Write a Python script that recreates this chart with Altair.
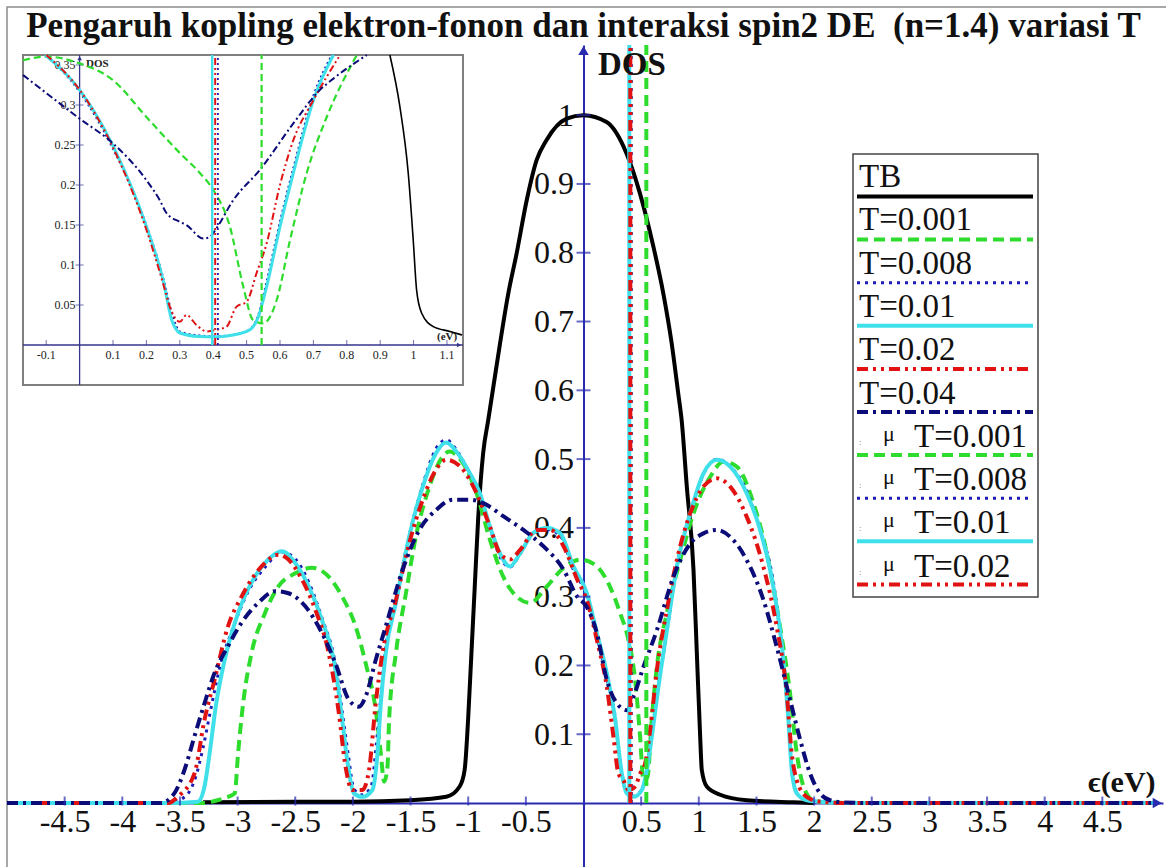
import altair as alt
import pandas as pd

# ---------------- text ----------------
TITLE = "Pengaruh kopling elektron-fonon dan interaksi spin2 DE\u00a0 (n=1.4) variasi T"
Y_LABEL = "DOS"
X_LABEL = "\u03f5(eV)"
INSET_Y_LABEL = "DOS"
INSET_X_LABEL = "(eV)"
LEGEND_LABELS = ["TB", "T=0.001", "T=0.008", "T=0.01", "T=0.02", "T=0.04",
                 "T=0.001", "T=0.008", "T=0.01", "T=0.02"]
LEGEND_MU = [False, False, False, False, False, False, True, True, True, True]

# ---------------- main data ----------------
TB_X = [-3.3, -2.5, -2.0, -1.5, -1.19, -1.074, -1.031, -1.001, -0.972, -0.943,
        -0.914, -0.87, -0.826, -0.782, -0.724, -0.652, -0.58, -0.493, -0.406, -0.32,
        -0.146, 0.0, 0.2, 0.374, 0.49, 0.606, 0.692, 0.765, 0.822, 0.851,
        0.896, 0.954, 0.983, 1.012, 1.026, 1.069, 1.185, 1.416, 1.82, 2.0]
TB_Y = [0.001, 0.002, 0.002, 0.004, 0.009, 0.024, 0.048, 0.121, 0.218, 0.315,
        0.412, 0.509, 0.557, 0.605, 0.668, 0.741, 0.799, 0.876, 0.935, 0.964,
        0.995, 1.0, 0.99, 0.944, 0.886, 0.809, 0.741, 0.668, 0.595, 0.557,
        0.46, 0.339, 0.218, 0.096, 0.048, 0.024, 0.012, 0.004, 0.001, 0.0]

T001_X = [-5.0, -3.3, -3.2, -3.1, -3.025, -2.996, -2.952, -2.879, -2.763, -2.646,
          -2.5, -2.355, -2.21, -2.093, -1.977, -1.889, -1.802, -1.758, -1.729, -1.7,
          -1.686, -1.627, -1.54, -1.453, -1.336, -1.22, -1.162, -1.045, -0.929, -0.812,
          -0.696, -0.579, -0.463, -0.317, -0.172, -0.026, 0.116, 0.231, 0.318, 0.39,
          0.448, 0.491, 0.52, 0.555, 0.592, 0.636, 0.723, 0.838, 0.954, 1.098,
          1.214, 1.329, 1.474, 1.59, 1.705, 1.792, 1.85, 1.908, 1.994, 2.11,
          2.4, 4.95]
T001_Y = [0, 0, 0.003, 0.008, 0.014, 0.072, 0.145, 0.218, 0.276, 0.315,
          0.334, 0.342, 0.329, 0.3, 0.257, 0.203, 0.135, 0.072, 0.031, 0.053,
          0.121, 0.218, 0.305, 0.388, 0.46, 0.504, 0.511, 0.494, 0.451, 0.383,
          0.329, 0.3, 0.291, 0.315, 0.342, 0.354, 0.344, 0.314, 0.276, 0.237,
          0.179, 0.096, 0.033, 0.038, 0.121, 0.198, 0.276, 0.353, 0.421, 0.474,
          0.496, 0.489, 0.436, 0.363, 0.256, 0.159, 0.072, 0.024, 0.004, 0.001,
          0, 0]

T008_X = [-5.0, -3.6, -3.45, -3.36, -3.3, -3.24, -3.15, -3.05, -2.9, -2.75,
          -2.62, -2.5, -2.38, -2.27, -2.15, -2.09, -2.04, -1.99, -1.92, -1.84,
          -1.8, -1.76, -1.72, -1.63, -1.51, -1.39, -1.28, -1.19, -1.1, -0.99,
          -0.9, -0.81, -0.73, -0.64, -0.55, -0.43, -0.32, -0.2, -0.09, 0.03,
          0.12, 0.2, 0.27, 0.32, 0.37, 0.43, 0.5, 0.54, 0.58, 0.64,
          0.72, 0.8, 0.92, 1.04, 1.16, 1.27, 1.42, 1.53, 1.65, 1.73,
          1.78, 1.81, 1.85, 1.94, 2.05, 2.3, 4.95]
T008_Y = [0, 0, 0.01, 0.04, 0.08, 0.13, 0.2, 0.25, 0.31, 0.345,
          0.365, 0.355, 0.32, 0.27, 0.2, 0.13, 0.07, 0.02, 0.012, 0.025,
          0.08, 0.15, 0.22, 0.295, 0.39, 0.465, 0.515, 0.528, 0.513, 0.48,
          0.45, 0.4, 0.36, 0.343, 0.362, 0.393, 0.398, 0.388, 0.34, 0.3,
          0.24, 0.183, 0.13, 0.06, 0.016, 0.01, 0.018, 0.04, 0.085, 0.16,
          0.245, 0.335, 0.418, 0.478, 0.5, 0.49, 0.452, 0.398, 0.318, 0.21,
          0.125, 0.05, 0.015, 0.004, 0.002, 0, 0]

T01_X = [-5.0, -3.6, -3.345, -3.287, -3.243, -3.185, -3.112, -2.996, -2.85, -2.734,
         -2.617, -2.5, -2.384, -2.268, -2.151, -2.093, -2.05, -1.991, -1.918, -1.831,
         -1.787, -1.758, -1.715, -1.627, -1.511, -1.394, -1.278, -1.191, -1.103, -0.987,
         -0.9, -0.812, -0.725, -0.638, -0.55, -0.434, -0.317, -0.202, -0.087, 0.029,
         0.116, 0.202, 0.275, 0.332, 0.376, 0.434, 0.506, 0.549, 0.592, 0.65,
         0.723, 0.809, 0.925, 1.04, 1.156, 1.272, 1.416, 1.532, 1.647, 1.734,
         1.777, 1.806, 1.85, 1.936, 2.052, 2.3, 4.95]
T01_Y = [0, 0, 0.002, 0.024, 0.072, 0.145, 0.208, 0.276, 0.329, 0.354,
         0.366, 0.349, 0.315, 0.266, 0.194, 0.121, 0.063, 0.014, 0.009, 0.019,
         0.072, 0.145, 0.218, 0.291, 0.388, 0.46, 0.509, 0.524, 0.511, 0.48,
         0.451, 0.402, 0.363, 0.344, 0.363, 0.393, 0.4, 0.392, 0.344, 0.305,
         0.247, 0.189, 0.121, 0.043, 0.014, 0.009, 0.019, 0.048, 0.096, 0.169,
         0.251, 0.343, 0.421, 0.479, 0.499, 0.489, 0.45, 0.397, 0.314, 0.208,
         0.121, 0.048, 0.014, 0.004, 0.002, 0, 0]

T002_X = [-5.0, -3.6, -3.52, -3.374, -3.287, -3.2, -3.083, -2.966, -2.792, -2.646,
          -2.559, -2.442, -2.326, -2.21, -2.122, -2.064, -2.006, -1.918, -1.86, -1.802,
          -1.744, -1.627, -1.511, -1.394, -1.278, -1.191, -1.074, -0.929, -0.812, -0.725,
          -0.638, -0.55, -0.405, -0.288, -0.172, -0.055, 0.029, 0.116, 0.202, 0.26,
          0.303, 0.347, 0.39, 0.448, 0.491, 0.535, 0.578, 0.636, 0.723, 0.809,
          0.925, 1.04, 1.156, 1.272, 1.416, 1.561, 1.676, 1.763, 1.806, 1.85,
          1.936, 2.052, 2.3, 4.95]
T002_Y = [0, 0, 0.009, 0.043, 0.121, 0.179, 0.257, 0.3, 0.344, 0.361,
          0.354, 0.325, 0.281, 0.218, 0.131, 0.053, 0.019, 0.019, 0.048, 0.145,
          0.218, 0.295, 0.378, 0.441, 0.485, 0.499, 0.49, 0.451, 0.402, 0.363,
          0.354, 0.368, 0.397, 0.397, 0.373, 0.325, 0.295, 0.237, 0.169, 0.096,
          0.043, 0.033, 0.019, 0.024, 0.043, 0.058, 0.106, 0.193, 0.281, 0.353,
          0.421, 0.46, 0.472, 0.46, 0.416, 0.343, 0.256, 0.159, 0.072, 0.033,
          0.009, 0.002, 0, 0]

T004_X = [-5.0, -3.665, -3.549, -3.461, -3.374, -3.287, -3.2, -3.083, -2.966, -2.821,
          -2.675, -2.559, -2.413, -2.268, -2.151, -2.035, -1.948, -1.889, -1.802, -1.715,
          -1.569, -1.424, -1.278, -1.133, -0.987, -0.87, -0.696, -0.521, -0.346, -0.172,
          -0.055, 0.029, 0.116, 0.202, 0.289, 0.376, 0.434, 0.52, 0.636, 0.78,
          0.925, 1.04, 1.156, 1.272, 1.416, 1.561, 1.676, 1.792, 1.879, 1.965,
          2.052, 2.139, 2.254, 2.5, 4.95]
T004_Y = [0, 0, 0.014, 0.048, 0.097, 0.145, 0.189, 0.228, 0.262, 0.291,
          0.308, 0.305, 0.286, 0.247, 0.203, 0.15, 0.14, 0.155, 0.208, 0.257,
          0.339, 0.397, 0.426, 0.441, 0.441, 0.436, 0.417, 0.397, 0.373, 0.339,
          0.3, 0.285, 0.247, 0.179, 0.145, 0.135, 0.155, 0.198, 0.251, 0.329,
          0.377, 0.392, 0.397, 0.387, 0.353, 0.295, 0.227, 0.15, 0.092, 0.043,
          0.014, 0.004, 0.001, 0, 0]

# chemical potential mu for T=0.001, 0.008, 0.01, 0.02
MU_X = [0.545, 0.414, 0.397, 0.406]

X_TICKS = [-4.5, -4, -3.5, -3, -2.5, -2, -1.5, -1, -0.5,
           0.5, 1, 1.5, 2, 2.5, 3, 3.5, 4, 4.5]
Y_TICKS = [0.1, 0.2, 0.3, 0.4, 0.5, 0.6, 0.7, 0.8, 0.9, 1]

# ---------------- inset data ----------------
I_TB_X = [0.929, 0.959, 0.984, 0.999, 1.009, 1.024, 1.059, 1.109, 1.145]
I_TB_Y = [0.3625, 0.298, 0.215, 0.131, 0.069, 0.04, 0.023, 0.017, 0.0125]
I_T001_X = [-0.1695, -0.1, 0.0, 0.1, 0.2, 0.3, 0.36, 0.4, 0.45, 0.49,
            0.52, 0.55, 0.59, 0.63, 0.68, 0.74, 0.83]
I_T001_Y = [0.356, 0.3605, 0.352, 0.331, 0.285, 0.24, 0.215, 0.194, 0.148, 0.073,
            0.031, 0.027, 0.056, 0.131, 0.215, 0.285, 0.3625]
I_T008_X = [-0.1, 0.0, 0.1, 0.2, 0.25, 0.28, 0.3, 0.36, 0.4, 0.46,
            0.51, 0.535, 0.56, 0.6, 0.64, 0.7, 0.755]
I_T008_Y = [0.3625, 0.316, 0.245, 0.15, 0.085, 0.035, 0.017, 0.012, 0.011, 0.013,
            0.02, 0.038, 0.08, 0.155, 0.222, 0.312, 0.3625]
I_T01_X = [-0.103, 0.0, 0.101, 0.2, 0.25, 0.276, 0.29, 0.3, 0.36, 0.4,
           0.46, 0.51, 0.535, 0.56, 0.6, 0.64, 0.7, 0.76]
I_T01_Y = [0.3625, 0.319, 0.248, 0.148, 0.081, 0.031, 0.019, 0.015, 0.0105, 0.01,
           0.0125, 0.019, 0.035, 0.073, 0.148, 0.215, 0.306, 0.3625]
I_T002_X = [-0.1, 0.0, 0.101, 0.2, 0.25, 0.27, 0.3, 0.32, 0.35, 0.38,
            0.41, 0.44, 0.47, 0.5, 0.53, 0.56, 0.6, 0.64, 0.7, 0.78]
I_T002_Y = [0.3625, 0.319, 0.246, 0.144, 0.077, 0.048, 0.029, 0.0375, 0.025, 0.017,
            0.019, 0.023, 0.048, 0.054, 0.09, 0.127, 0.2, 0.256, 0.306, 0.3625]
I_T004_X = [-0.1695, 0.0, 0.1, 0.2, 0.24, 0.26, 0.3, 0.32, 0.37, 0.39,
            0.41, 0.46, 0.54, 0.64, 0.72, 0.76, 0.86]
I_T004_Y = [0.3375, 0.283, 0.252, 0.206, 0.181, 0.165, 0.154, 0.15, 0.133, 0.135,
            0.146, 0.181, 0.219, 0.277, 0.319, 0.333, 0.3625]

I_X_TICKS = [-0.1, 0.1, 0.2, 0.3, 0.4, 0.5, 0.6, 0.7, 0.8, 0.9, 1, 1.1]
I_Y_TICKS = [0.05, 0.1, 0.15, 0.2, 0.25, 0.3, 0.35]

# ---------------- geometry / styles ----------------
W, H = 1156, 822
PAD = {"left": 7, "top": 45, "right": 3, "bottom": 0}
X_DOMAIN = [-5.0, 5.026]
Y_DOMAIN = [-0.093, 1.102]
I_X_DOMAIN = [-0.1695, 1.148]
I_Y_DOMAIN = [-0.05, 0.3625]
I_X_RANGE = [16, 456]
I_Y_RANGE = [340, 10]

FONT = "Liberation Serif"
AXIS_COLOR = "#2a2ab0"
I_AXIS_COLOR = "#35358c"

STYLE = {
    "TB":   {"color": "#000000", "w": 4, "dash": None, "iw": 1.6, "idash": None},
    "T001": {"color": "#2ddc2d", "w": 4, "dash": [11, 6], "iw": 2.2, "idash": [7, 4]},
    "T008": {"color": "#1c1cb4", "w": 3, "dash": [3, 5], "iw": 1.8, "idash": [2, 3]},
    "T01":  {"color": "#3fe0ea", "w": 4, "dash": None, "iw": 3, "idash": None},
    "T002": {"color": "#e01212", "w": 4, "dash": [11, 5, 3, 5, 3, 5], "iw": 2, "idash": [7, 3, 2, 3, 2, 3]},
    "T004": {"color": "#0c0c78", "w": 4, "dash": [11, 5, 3, 5], "iw": 2, "idash": [7, 3, 2, 3]},
}
LEGEND_KEYS = ["TB", "T001", "T008", "T01", "T002", "T004", "T001", "T008", "T01", "T002"]
MU_KEYS = ["T001", "T008", "T01", "T002"]

xs = alt.Scale(domain=X_DOMAIN, nice=False, zero=False)
ys = alt.Scale(domain=Y_DOMAIN, nice=False, zero=False)
ixs = alt.Scale(domain=I_X_DOMAIN, range=I_X_RANGE, nice=False, zero=False)
iys = alt.Scale(domain=I_Y_DOMAIN, range=I_Y_RANGE, nice=False, zero=False)

x_off = -H * (0 - Y_DOMAIN[0]) / (Y_DOMAIN[1] - Y_DOMAIN[0])
y_off = -W * (0 - X_DOMAIN[0]) / (X_DOMAIN[1] - X_DOMAIN[0])

x_axis = alt.Axis(values=X_TICKS, title=None, orient="bottom", offset=x_off,
                  ticks=False, tickSize=0, grid=False, domainColor=AXIS_COLOR,
                  domainWidth=2, labelFont=FONT, labelFontSize=32, labelColor="#111",
                  labelPadding=3, labelExpr="'' + datum.value", labelOverlap=False,
                  labelFlush=False)
y_axis = alt.Axis(values=Y_TICKS, title=None, orient="left", offset=y_off,
                  ticks=False, tickSize=0, grid=False, domainColor=AXIS_COLOR,
                  domainWidth=2, labelFont=FONT, labelFontSize=32, labelColor="#111",
                  labelPadding=10, labelExpr="'' + datum.value", labelOverlap=False,
                  labelFlush=False)

X = lambda f="x": alt.X(f + ":Q", scale=xs, axis=x_axis)
Y = lambda f="y": alt.Y(f + ":Q", scale=ys, axis=y_axis)
IX = lambda f="ix": alt.X(f + ":Q", scale=ixs, axis=None)
IY = lambda f="iy": alt.Y(f + ":Q", scale=iys, axis=None)


def mk(kw, dash):
    if dash:
        kw["strokeDash"] = dash
    return kw


def main_line(xv, yv, key):
    assert len(xv) == len(yv), key
    s = STYLE[key]
    df = pd.DataFrame({"x": xv, "y": yv})
    kw = mk({"color": s["color"], "strokeWidth": s["w"], "interpolate": "monotone"}, s["dash"])
    return alt.Chart(df).mark_line(**kw).encode(x=X(), y=Y())


def inset_line(xv, yv, key):
    assert len(xv) == len(yv), key
    s = STYLE[key]
    df = pd.DataFrame({"ix": xv, "iy": yv})
    kw = mk({"color": s["color"], "strokeWidth": s["iw"], "interpolate": "monotone"}, s["idash"])
    return alt.Chart(df).mark_line(**kw).encode(x=IX(), y=IY())


def vtext(text, x, y, size, weight="normal", align="left", color="#111", font=FONT):
    return alt.Chart(pd.DataFrame({"t": [text]})).mark_text(
        font=font, fontSize=size, fontWeight=weight, align=align,
        baseline="alphabetic", color=color
    ).encode(x=alt.value(x), y=alt.value(y), text="t:N")


one = pd.DataFrame({"a": [0]})

# ---------------- main layer ----------------
main_layers = []
main_layers.append(alt.Chart(one).mark_rect(fillOpacity=0, stroke="#8c8c8c", strokeWidth=1.5).encode(
    x=alt.value(0), x2=alt.value(1300), y=alt.value(-38), y2=alt.value(1000)))
main_layers.append(main_line(TB_X, TB_Y, "TB"))
main_layers.append(main_line(T001_X, T001_Y, "T001"))
main_layers.append(main_line(T008_X, T008_Y, "T008"))
main_layers.append(main_line(T01_X, T01_Y, "T01"))
main_layers.append(main_line(T002_X, T002_Y, "T002"))
main_layers.append(main_line(T004_X, T004_Y, "T004"))
for mu, key in zip(MU_X, MU_KEYS):
    s = STYLE[key]
    df = pd.DataFrame({"x": [mu], "y": [0.0], "y2": [Y_DOMAIN[1]]})
    kw = mk({"color": s["color"], "strokeWidth": s["w"]}, s["dash"])
    main_layers.append(alt.Chart(df).mark_rule(**kw).encode(x=X(), y=Y(), y2="y2:Q"))

# axis ticks crossing the axes
main_layers.append(alt.Chart(pd.DataFrame({"x": X_TICKS, "y": [0.0] * len(X_TICKS)})).mark_tick(
    orient="vertical", size=9, thickness=2, color=AXIS_COLOR, yOffset=-2).encode(x=X(), y=Y()))
main_layers.append(alt.Chart(pd.DataFrame({"x": [0.0] * len(Y_TICKS), "y": Y_TICKS})).mark_tick(
    orient="horizontal", size=14, thickness=2, color=AXIS_COLOR).encode(x=X(), y=Y()))
# arrow heads
main_layers.append(alt.Chart(pd.DataFrame({"x": [X_DOMAIN[1] - 0.05], "y": [0.0]})).mark_point(
    shape="triangle-right", filled=True, size=110, color=AXIS_COLOR, opacity=1).encode(x=X(), y=Y()))
main_layers.append(alt.Chart(pd.DataFrame({"x": [0.0], "y": [Y_DOMAIN[1] - 0.008]})).mark_point(
    shape="triangle-up", filled=True, size=110, color=AXIS_COLOR, opacity=1).encode(x=X(), y=Y()))

main_layers.append(vtext(TITLE, 576.5, -8, 35, "bold", "center"))
main_layers.append(vtext(Y_LABEL, 591, 30, 33, "bold"))
main_layers.append(vtext(X_LABEL, 1081, 747, 30, "bold"))

# ---------------- inset layer ----------------
inset_layers = []
inset_layers.append(alt.Chart(one).mark_rect(fill="white", stroke="#7f7f7f", strokeWidth=2).encode(
    x=alt.value(I_X_RANGE[0]), x2=alt.value(I_X_RANGE[1]),
    y=alt.value(I_Y_RANGE[1]), y2=alt.value(I_Y_RANGE[0])))
# inset axes
inset_layers.append(alt.Chart(pd.DataFrame({"ix": [I_X_DOMAIN[0]], "ix2": [I_X_DOMAIN[1]], "iy": [0.0]})).mark_rule(
    color=I_AXIS_COLOR, strokeWidth=1.3).encode(x=IX(), x2="ix2:Q", y=IY()))
inset_layers.append(alt.Chart(pd.DataFrame({"ix": [0.0], "iy": [I_Y_DOMAIN[0]], "iy2": [I_Y_DOMAIN[1]]})).mark_rule(
    color=I_AXIS_COLOR, strokeWidth=1.3).encode(x=IX(), y=IY(), y2="iy2:Q"))
inset_layers.append(alt.Chart(pd.DataFrame({"ix": I_X_TICKS, "iy": [0.0] * len(I_X_TICKS)})).mark_tick(
    orient="vertical", size=5, thickness=1, color=I_AXIS_COLOR, yOffset=-2.5).encode(x=IX(), y=IY()))
inset_layers.append(alt.Chart(pd.DataFrame({"ix": [0.0] * len(I_Y_TICKS), "iy": I_Y_TICKS})).mark_tick(
    orient="horizontal", size=8, thickness=1, color=I_AXIS_COLOR).encode(x=IX(), y=IY()))
inset_layers.append(alt.Chart(pd.DataFrame({"ix": I_X_TICKS, "iy": [0.0] * len(I_X_TICKS),
                                            "t": [str(v) for v in I_X_TICKS]})).mark_text(
    font=FONT, fontSize=12, color="#222", baseline="top", align="center", dy=5).encode(x=IX(), y=IY(), text="t:N"))
inset_layers.append(alt.Chart(pd.DataFrame({"ix": [0.0] * len(I_Y_TICKS), "iy": I_Y_TICKS,
                                            "t": [str(v) for v in I_Y_TICKS]})).mark_text(
    font=FONT, fontSize=12, color="#222", baseline="middle", align="right", dx=-4).encode(x=IX(), y=IY(), text="t:N"))
inset_layers.append(vtext(INSET_Y_LABEL, 79, 22, 11, "bold", color="#222"))
inset_layers.append(vtext(INSET_X_LABEL, 430, 295, 11, "bold", color="#222"))

inset_layers.append(inset_line(I_TB_X, I_TB_Y, "TB"))
inset_layers.append(inset_line(I_T001_X, I_T001_Y, "T001"))
inset_layers.append(inset_line(I_T008_X, I_T008_Y, "T008"))
inset_layers.append(inset_line(I_T01_X, I_T01_Y, "T01"))
inset_layers.append(inset_line(I_T002_X, I_T002_Y, "T002"))
inset_layers.append(inset_line(I_T004_X, I_T004_Y, "T004"))
for mu, key in zip(MU_X, MU_KEYS):
    s = STYLE[key]
    df = pd.DataFrame({"ix": [mu], "iy": [0.0], "iy2": [I_Y_DOMAIN[1]]})
    kw = mk({"color": s["color"], "strokeWidth": s["iw"] if key != "T01" else 2.4}, s["idash"])
    inset_layers.append(alt.Chart(df).mark_rule(**kw).encode(x=IX(), y=IY(), y2="iy2:Q"))
inset_layers.append(alt.Chart(pd.DataFrame({"ix": [I_X_DOMAIN[1] - 0.012], "iy": [0.0]})).mark_point(
    shape="triangle-right", filled=True, size=22, color=I_AXIS_COLOR, opacity=1).encode(x=IX(), y=IY()))
inset_layers.append(alt.Chart(pd.DataFrame({"ix": [0.0], "iy": [I_Y_DOMAIN[1] - 0.004]})).mark_point(
    shape="triangle-up", filled=True, size=22, color=I_AXIS_COLOR, opacity=1).encode(x=IX(), y=IY()))

# ---------------- legend layer ----------------
LG_X0, LG_X1 = 846, 1031
LG_Y0, LG_Y1 = 109, 552
legend_layers = [alt.Chart(one).mark_rect(fill="white", stroke="#444", strokeWidth=1.5).encode(
    x=alt.value(LG_X0), x2=alt.value(LG_X1), y=alt.value(LG_Y0), y2=alt.value(LG_Y1))]
STEP = 43.3
for i, (lab, key, is_mu) in enumerate(zip(LEGEND_LABELS, LEGEND_KEYS, LEGEND_MU)):
    s = STYLE[key]
    ty = 142 + STEP * i
    ly = 151.5 + 43.1 * i
    if is_mu:
        legend_layers.append(vtext(":", 852, ty - 2, 9, color="#777"))
        legend_layers.append(vtext("\u03bc", 876, ty - 6, 22))
        legend_layers.append(vtext(lab, 907, ty, 33))
    else:
        legend_layers.append(vtext(lab, 852, ty, 33))
    kw = mk({"color": s["color"], "strokeWidth": s["w"]}, s["dash"])
    legend_layers.append(alt.Chart(one).mark_rule(**kw).encode(
        x=alt.value(LG_X0 + 4), x2=alt.value(LG_X1 - 5), y=alt.value(ly)))

chart = alt.layer(
    alt.layer(*main_layers),
    alt.layer(*inset_layers),
    alt.layer(*legend_layers),
).resolve_scale(x="independent", y="independent").properties(
    width=W, height=H, padding=PAD,
    autosize=alt.AutoSizeParams(type="none"), background="white",
).configure_view(stroke=None)

chart.save("out.html", embed_options={"renderer": "svg", "actions": False})
